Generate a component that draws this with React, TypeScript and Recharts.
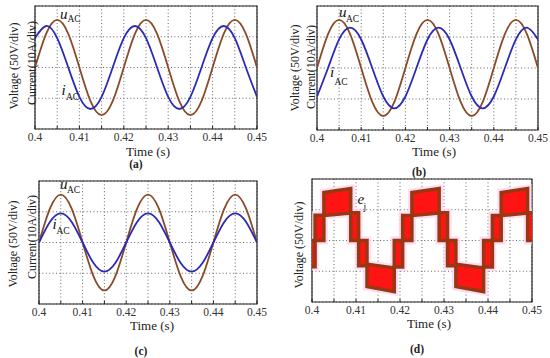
import React from 'react';
import { LineChart, ComposedChart, Line, Area, XAxis, YAxis, CartesianGrid, ReferenceArea } from 'recharts';

const FONT = '"Liberation Serif", "Times New Roman", serif';
const BROWN = '#8a4b28';
const BLUE = '#2b2bb8';

// sample instants (s), one every 1/8 period
const TIME = [0.4, 0.4025, 0.405, 0.4075, 0.41, 0.4125, 0.415, 0.4175, 0.42, 0.4225, 0.425, 0.4275, 0.43, 0.4325, 0.435, 0.4375, 0.44, 0.4425, 0.445, 0.4475, 0.45];

// values read in grid divisions
const U_A = [0, 2.19, 3.1, 2.19, 0, -2.19, -3.1, -2.19, 0, 2.19, 3.1, 2.19, 0, -2.19, -3.1, -2.19, 0, 2.19, 3.1, 2.19, 0];
const I_A = [1.91, 2.7, 1.91, 0, -1.91, -2.7, -1.91, 0, 1.91, 2.7, 1.91, 0, -1.91, -2.7, -1.91, 0, 1.91, 2.7, 1.91, 0, -1.91];
const U_B = [0, 2.19, 3.1, 2.19, 0, -2.19, -3.1, -2.19, 0, 2.19, 3.1, 2.19, 0, -2.19, -3.1, -2.19, 0, 2.19, 3.1, 2.19, 0];
const I_B = [-1.84, 0, 1.84, 2.6, 1.84, 0, -1.84, -2.6, -1.84, 0, 1.84, 2.6, 1.84, 0, -1.84, -2.6, -1.84, 0, 1.84, 2.6, 1.84];
const U_C = [0, 2.2, 3.12, 2.2, 0, -2.2, -3.12, -2.2, 0, 2.2, 3.12, 2.2, 0, -2.2, -3.12, -2.2, 0, 2.2, 3.12, 2.2, 0];
const I_C = [0, 1.34, 1.9, 1.34, 0, -1.34, -1.9, -1.34, 0, 1.34, 1.9, 1.34, 0, -1.34, -1.9, -1.34, 0, 1.34, 1.9, 1.34, 0];

// stepped e_j band (d): block edges and lower/upper envelope in divisions
const EJ_T = [0.4, 0.4007, 0.4007, 0.4027, 0.4027, 0.4088, 0.4088, 0.4106, 0.4106, 0.4125, 0.4125, 0.4187, 0.4187, 0.4206, 0.4206, 0.4227, 0.4227, 0.4289, 0.4289, 0.4308, 0.4308, 0.4327, 0.4327, 0.439, 0.439, 0.441, 0.441, 0.443, 0.443, 0.449, 0.449, 0.45];
const EJ_LO = [-1.7, -1.7, 0, 0, 1.62, 1.78, 0, 0, -1.65, -1.65, -3.0, -3.32, -1.72, -1.72, 0, 0, 1.62, 1.78, 0, 0, -1.65, -1.65, -3.0, -3.32, -1.72, -1.72, 0, 0, 1.62, 1.78, 0, 0];
const EJ_HI = [0, 0, 1.65, 1.65, 3.12, 3.38, 1.8, 1.8, 0, 0, -1.55, -1.78, 0, 0, 1.62, 1.62, 3.12, 3.38, 1.8, 1.8, 0, 0, -1.55, -1.78, 0, 0, 1.62, 1.62, 3.12, 3.38, 1.8, 1.8];

const TIME_TICKS = [0.4, 0.405, 0.41, 0.415, 0.42, 0.425, 0.43, 0.435, 0.44, 0.445, 0.45];
const TICK_TEXT = ['0.4', '', '0.41', '', '0.42', '', '0.43', '', '0.44', '', '0.45'];
const DIV_TICKS = [-4, -3, -2, -1, 0, 1, 2, 3, 4];

type Box = { x: number; y: number; w: number; h: number };
const PAD = { top: 4, right: 10, bottom: 4, left: 10 };
const AXIS_H = 22;

const waveRows = (u: number[], i: number[]) => TIME.map((t, k) => ({ t, u: u[k], i: i[k] }));
const ejRows = EJ_T.map((t, k) => ({ t, band: [EJ_LO[k], EJ_HI[k]] }));

const frameParts = () => [
    <CartesianGrid key="grid" stroke="#555" strokeDasharray="1 2.4" strokeWidth={0.9} />,
    <XAxis
        key="x"
        dataKey="t"
        type="number"
        domain={[0.4, 0.45]}
        ticks={TIME_TICKS}
        interval={0}
        allowDataOverflow
        tickFormatter={(v: number, idx: number) => TICK_TEXT[idx] ?? ''}
        height={AXIS_H}
        axisLine={false}
        tickLine={{ stroke: '#222' }}
        tickSize={-3}
        tickMargin={7}
        tick={{ fontSize: 11.5, fill: '#333', fontFamily: FONT }}
    />,
    <YAxis key="y" type="number" domain={[-4, 4]} ticks={DIV_TICKS} allowDataOverflow hide />,
    <ReferenceArea key="box" x1={0.4} x2={0.45} y1={-4} y2={4} fill="none" stroke="#222" strokeWidth={1.2} ifOverflow="visible" />,
];

const place = (b: Box) => ({
    style: { position: 'absolute' as const, left: b.x - PAD.left, top: b.y - PAD.top },
    width: b.w + PAD.left + PAD.right,
    height: b.h + PAD.top + PAD.bottom + AXIS_H,
});

const WavePanel: React.FC<{ box: Box; u: number[]; i: number[] }> = ({ box, u, i }) => {
    const p = place(box);
    return (
        <div style={p.style}>
            <LineChart width={p.width} height={p.height} data={waveRows(u, i)} margin={PAD}>
                {frameParts()}
                <Line type="natural" dataKey="u" stroke={BROWN} strokeWidth={1.8} dot={false} activeDot={false} isAnimationActive={false} />
                <Line type="natural" dataKey="i" stroke={BLUE} strokeWidth={1.8} dot={false} activeDot={false} isAnimationActive={false} />
            </LineChart>
        </div>
    );
};

const StepPanel: React.FC<{ box: Box }> = ({ box }) => {
    const p = place(box);
    return (
        <div style={p.style}>
            <ComposedChart width={p.width} height={p.height} data={ejRows} margin={PAD}>
                {frameParts()}
                <Area type="linear" dataKey="band" stroke="#ffd2f2" strokeOpacity={0.75} strokeWidth={8} fill="#ffd2f2" fillOpacity={0.75} dot={false} activeDot={false} isAnimationActive={false} />
                <Area type="linear" dataKey="band" stroke="#963812" strokeWidth={3.5} fill="#ff1414" fillOpacity={1} dot={false} activeDot={false} isAnimationActive={false} />
            </ComposedChart>
        </div>
    );
};

const VLabel: React.FC<{ x: number; y: number; text: string }> = ({ x, y, text }) => (
    <text transform={`translate(${x},${y}) rotate(-90)`} textAnchor="middle" dominantBaseline="central" fontSize={12} fill="#222">
        {text}
    </text>
);

const Sym: React.FC<{ x: number; y: number; main: string; sub: string; dx: number; dy: number }> = ({ x, y, main, sub, dx, dy }) => (
    <g fill="#111">
        <text x={x} y={y} fontSize={15} fontStyle="italic">{main}</text>
        <text x={x + dx} y={y + dy} fontSize={9.5}>{sub}</text>
    </g>
);

const Caption: React.FC<{ cx: number; y: number; text: string; bold?: boolean }> = ({ cx, y, text, bold }) => (
    <text x={cx} y={y} textAnchor="middle" fontSize={bold ? 11.5 : 13} fontWeight={bold ? 'bold' : 'normal'} fill="#222">
        {text}
    </text>
);

export default function App() {
    return (
        <div style={{ position: 'absolute', left: 0, top: 0, width: 550, height: 358, background: '#fff', fontFamily: FONT, overflow: 'hidden' }}>
            <WavePanel box={{ x: 35, y: 6, w: 222, h: 123 }} u={U_A} i={I_A} />
            <WavePanel box={{ x: 317, y: 6, w: 221, h: 124 }} u={U_B} i={I_B} />
            <WavePanel box={{ x: 39, y: 181, w: 218, h: 123 }} u={U_C} i={I_C} />
            <StepPanel box={{ x: 312, y: 179, w: 220, h: 123 }} />
            <svg width={550} height={358} style={{ position: 'absolute', left: 0, top: 0, pointerEvents: 'none', fontFamily: FONT }}>
                <VLabel x={14} y={66} text="Voltage (50V/div)" />
                <VLabel x={32} y={63} text="Current(10A/div)" />
                <VLabel x={295} y={68} text="Voltage (50V/div)" />
                <VLabel x={311} y={67} text="Current(10A/div)" />
                <VLabel x={13} y={244} text="Voltage (50V/div)" />
                <VLabel x={32} y={237} text="Current(10A/div)" />
                <VLabel x={299} y={245} text="Voltage (50V/div)" />

                <Sym x={60} y={18.5} main="u" sub="AC" dx={7.5} dy={3.5} />
                <Sym x={61.5} y={95} main="i" sub="AC" dx={4.5} dy={5} />
                <Sym x={339} y={16.7} main="u" sub="AC" dx={7} dy={5} />
                <Sym x={330} y={77} main="i" sub="AC" dx={4.5} dy={8} />
                <Sym x={60} y={189} main="u" sub="AC" dx={7} dy={3.5} />
                <Sym x={52.5} y={229} main="i" sub="AC" dx={4} dy={5} />
                <Sym x={357.5} y={204} main="e" sub="j" dx={6} dy={5.5} />

                <Caption cx={148} y={155.5} text="Time (s)" />
                <Caption cx={434} y={155.5} text="Time (s)" />
                <Caption cx={152} y={329.5} text="Time (s)" />
                <Caption cx={429} y={328} text="Time (s)" />
                <Caption cx={136} y={167.5} text="(a)" bold />
                <Caption cx={419} y={175.5} text="(b)" bold />
                <Caption cx={141} y={355} text="(c)" bold />
                <Caption cx={417} y={352.5} text="(d)" bold />
            </svg>
        </div>
    );
}
